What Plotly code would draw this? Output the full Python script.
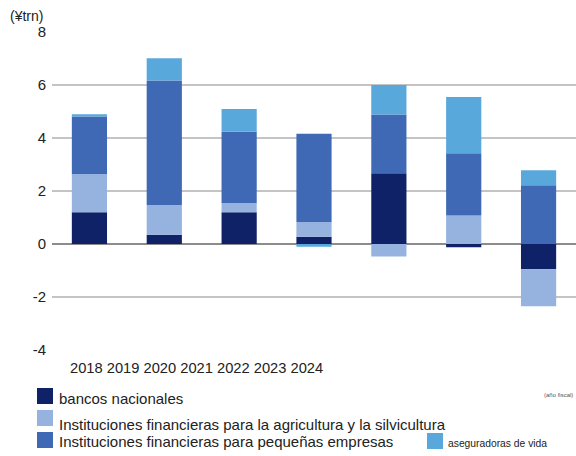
import plotly.graph_objects as go

# Fiscal years and net flows (¥ trillion) by lender type
years = ["2018", "2019", "2020", "2021", "2022", "2023", "2024"]
bancos_nacionales = [1.20, 0.35, 1.20, 0.27, 2.67, -0.12, -0.95]
agricultura_silvicultura = [1.44, 1.12, 0.35, 0.56, -0.47, 1.08, -1.40]
pequenas_empresas = [2.17, 4.70, 2.69, 3.33, 2.22, 2.34, 2.22]
aseguradoras_vida = [0.09, 0.84, 0.85, -0.10, 1.11, 2.13, 0.56]

y_ticks = [-4, -2, 0, 2, 4, 6, 8]
y_tick_labels = ["-4", "-2", "0", "2", "4", "6", "8"]

series_names = [
    "bancos nacionales",
    "Instituciones financieras para la agricultura y la silvicultura",
    "Instituciones financieras para pequeñas empresas",
    "aseguradoras de vida",
]
series_values = [bancos_nacionales, agricultura_silvicultura, pequenas_empresas, aseguradoras_vida]
colors = ["#0f2167", "#95b3de", "#3f69b4", "#59a8dc"]

FONT = "Liberation Sans, Arial, sans-serif"

fig = go.Figure()
for name, vals, col in zip(series_names, series_values, colors):
    fig.add_trace(go.Bar(x=years, y=vals, name=name, marker=dict(color=col, line=dict(width=0)),
                         showlegend=False))

fig.update_layout(
    width=576, height=456,
    margin=dict(l=52, r=0, t=32, b=106),
    barmode="relative",
    bargap=0.53,
    paper_bgcolor="white",
    plot_bgcolor="white",
    font=dict(family=FONT, color="#222222", size=15),
    xaxis=dict(showticklabels=False, showgrid=False, zeroline=False, showline=False, ticks=""),
    yaxis=dict(range=[-4, 8], tickvals=y_ticks, ticktext=y_tick_labels, showgrid=True,
               gridcolor="#c4c4c4", gridwidth=1.5, zeroline=True, zerolinecolor="#8c8c8c",
               zerolinewidth=1.5, showline=False, ticks="", ticklabelstandoff=5,
               tickfont=dict(size=15, color="#222222")),
)


def px_x(px):
    return (px - 52) / 524


def px_y(py):
    return (350 - py) / 318


annotations = [
    dict(text="(¥trn)", x=px_x(8), y=px_y(16), xanchor="left", yanchor="middle",
         font=dict(size=14)),
    dict(text=" ".join(years), x=px_x(68), y=px_y(368), xanchor="left", yanchor="middle",
         font=dict(size=14.7)),
    dict(text="(año fiscal)", x=px_x(575), y=px_y(395), xanchor="right", yanchor="middle",
         font=dict(size=6, color="#555555")),
]

# Hand-placed legend: swatch box (x0, y0, size) and label position/font size
legend_items = [
    (series_names[0], colors[0], 37, 388, 16, 57, 398, 15),
    (series_names[1], colors[1], 37, 410, 16, 57, 424, 15),
    (series_names[2], colors[2], 37, 432, 16, 57, 441, 15),
    (series_names[3], colors[3], 427, 433, 16, 446, 443, 10.3),
]
shapes = []
for name, col, sx, sy, s, tx, ty, fs in legend_items:
    shapes.append(dict(type="rect", xref="paper", yref="paper", x0=px_x(sx), x1=px_x(sx + s),
                       y0=px_y(sy + s), y1=px_y(sy), fillcolor=col, line=dict(width=0)))
    annotations.append(dict(text=name, x=px_x(tx), y=px_y(ty), xanchor="left", yanchor="middle",
                            font=dict(size=fs)))

for a in annotations:
    fig.add_annotation(xref="paper", yref="paper", showarrow=False, **a)
fig.update_layout(shapes=shapes)

fig.write_html("out.html")
